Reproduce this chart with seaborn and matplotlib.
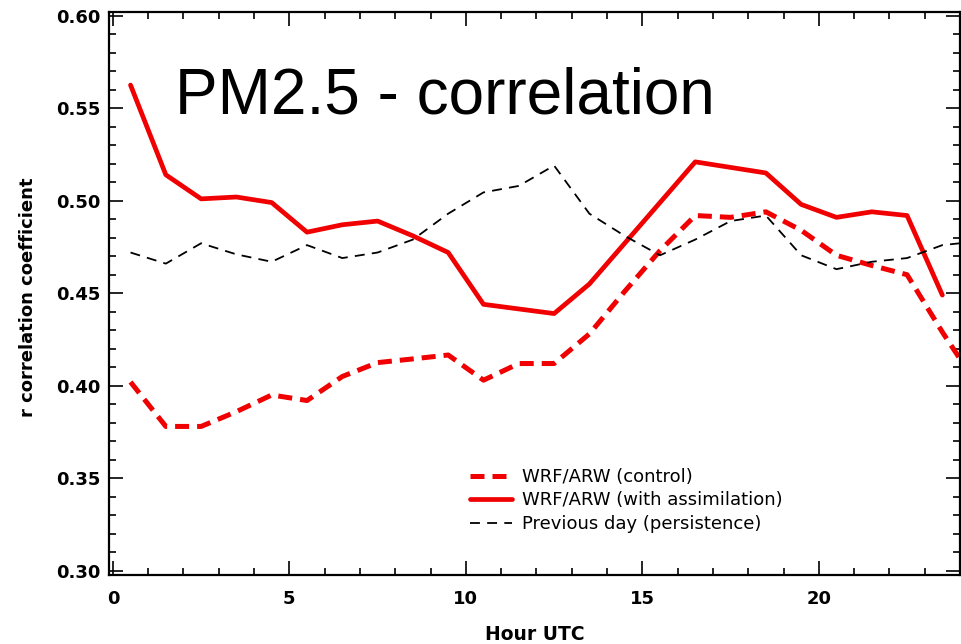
import matplotlib
matplotlib.use("Agg")
import matplotlib.pyplot as plt
from matplotlib.ticker import MultipleLocator
import seaborn as sns
import pandas as pd
import numpy as np

# ---- data ----
hours = [0.5, 1.5, 2.5, 3.5, 4.5, 5.5, 6.5, 7.5, 8.5, 9.5, 10.5, 11.5,
         12.5, 13.5, 14.5, 15.5, 16.5, 17.5, 18.5, 19.5, 20.5, 21.5, 22.5, 23.5, 24.5]
control = [0.402, 0.378, 0.378, 0.386, 0.395, 0.392, 0.405, 0.4125, 0.4145, 0.4166,
           0.403, 0.412, 0.412, 0.428, 0.451, 0.473, 0.492, 0.491, 0.494, 0.484,
           0.4705, 0.465, 0.460, 0.429, 0.400]
assimilation = [0.5625, 0.514, 0.501, 0.502, 0.499, 0.483, 0.487, 0.489, 0.481, 0.472,
                0.444, 0.4415, 0.439, 0.455, 0.477, 0.499, 0.521, 0.518, 0.515, 0.498,
                0.491, 0.494, 0.492, 0.449]
persistence = [0.472, 0.466, 0.477, 0.471, 0.467, 0.476, 0.469, 0.472, 0.479, 0.493,
               0.5045, 0.508, 0.519, 0.493, 0.481, 0.4705, 0.479, 0.489, 0.492, 0.4705,
               0.463, 0.467, 0.469, 0.476, 0.478]

labels = ["WRF/ARW (control)", "WRF/ARW (with assimilation)", "Previous day (persistence)"]
title_text = "PM2.5 - correlation"
xlabel = "Hour UTC"
ylabel = "r correlation coefficient"

df_control = pd.DataFrame({"hour": hours, "r": control})
df_assim = pd.DataFrame({"hour": hours[:len(assimilation)], "r": assimilation})
df_pers = pd.DataFrame({"hour": hours, "r": persistence})

sns.set_style("ticks")
plt.rcParams["font.family"] = ["DejaVu Sans"]
plt.rcParams["text.color"] = "black"
plt.rcParams["axes.labelcolor"] = "black"
plt.rcParams["xtick.color"] = "black"
plt.rcParams["ytick.color"] = "black"
plt.rcParams["xtick.labelcolor"] = "black"
plt.rcParams["ytick.labelcolor"] = "black"

W, H = 961, 644
fig = plt.figure(figsize=(W / 100, H / 100), dpi=100)
L, R, T, B = 109, 960, 12, 575
ax = fig.add_axes([L / W, 1 - B / H, (R - L) / W, (B - T) / H])

red = "#f00000"
sns.lineplot(data=df_control, x="hour", y="r", ax=ax, color=red, linewidth=3.6,
             linestyle=(0, (2.8, 1.6)), label=labels[0])
sns.lineplot(data=df_assim, x="hour", y="r", ax=ax, color=red, linewidth=3.4,
             linestyle="-", label=labels[1])
sns.lineplot(data=df_pers, x="hour", y="r", ax=ax, color="black", linewidth=1.3,
             linestyle=(0, (5.5, 4.0)), label=labels[2])

ax.set_xlim(-0.11, 24.0)
ax.set_ylim(0.2977, 0.602)

ax.xaxis.set_major_locator(MultipleLocator(5))
ax.xaxis.set_minor_locator(MultipleLocator(1))
ax.yaxis.set_major_locator(MultipleLocator(0.05))
ax.yaxis.set_minor_locator(MultipleLocator(0.01))
ax.yaxis.set_major_formatter(matplotlib.ticker.FormatStrFormatter("%.2f"))

for s in ax.spines.values():
    s.set_visible(True)
    s.set_linewidth(1.6)
    s.set_color("black")

ax.tick_params(which="both", direction="in", top=True, right=True, width=1.2,
               color="black", labelcolor="black")
ax.tick_params(which="major", length=10)
ax.tick_params(which="minor", length=5)
ax.tick_params(axis="x", which="major", pad=11, labelsize=13)
ax.tick_params(axis="y", which="major", pad=6, labelsize=13)
for lab in ax.get_xticklabels() + ax.get_yticklabels():
    lab.set_fontweight("bold")

ax.set_xlabel(xlabel, fontsize=13.5, fontweight="bold", color="black")
ax.set_ylabel(ylabel, fontsize=13, fontweight="bold", color="black")
ax.xaxis.set_label_coords((535 - L) / (R - L), (B - 625) / (B - T))
ax.yaxis.set_label_coords((37 - L) / (R - L), (B - 297) / (B - T))

ax.text(1.75, 0.5474, title_text, fontsize=46, family=["Liberation Sans", "DejaVu Sans"],
        va="baseline", ha="left", color="black")

leg = ax.legend(loc="upper left", bbox_to_anchor=((470 - L) / (R - L), (B - 468) / (B - T)),
                frameon=False, fontsize=13, handlelength=2.3, handletextpad=0.6,
                labelspacing=0.3, borderpad=0, borderaxespad=0)
for t in leg.get_texts():
    t.set_color("black")

ax.grid(False)
fig.savefig("out.png", dpi=100)
